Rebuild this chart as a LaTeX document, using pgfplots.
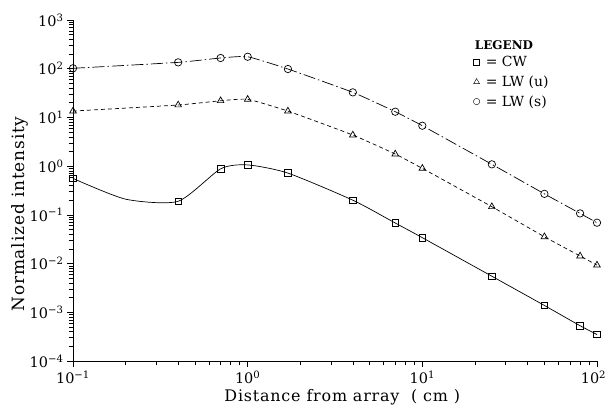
\documentclass[border=0pt]{standalone}
\usepackage{pgfplots}
\pgfplotsset{compat=1.18}
\usepackage{fontspec}
\setmainfont{DejaVu Serif}
\newfontfamily\labelfont[LetterSpace=5]{DejaVu Serif}
\begin{document}
\begin{tikzpicture}
\useasboundingbox (-73bp,-50bp) rectangle (535bp,361bp);
\begin{axis}[
  at={(0,0)}, anchor=south west,
  scale only axis, width=524bp, height=341bp,
  xmode=log, ymode=log,
  xmin=0.1, xmax=100, ymin=1e-4, ymax=1e3,
  axis x line*=bottom, axis y line*=left,
  axis line style={-, line width=0.7bp},
  tick style={black, line width=0.6bp},
  tick align=outside,
  major tick length=6bp, minor tick length=4.5bp,
  xtick={0.1,1,10,100},
  xticklabels={10\textsuperscript{−1},10\textsuperscript{0},10\textsuperscript{1},\hspace*{-7bp}10\textsuperscript{2}},
  minor xtick={0.2,0.3,0.4,0.5,0.6,0.7,0.8,0.9,2,3,4,5,6,7,8,9,20,30,40,50,60,70,80,90},
  ytick={1e-4,1e-3,1e-2,1e-1,1,10,100,1000},
  yticklabels={10\textsuperscript{−4},10\textsuperscript{−3},10\textsuperscript{−2},10\textsuperscript{−1},10\textsuperscript{0},10\textsuperscript{1},10\textsuperscript{2},10\textsuperscript{3}},
  minor ytick={2e-4,3e-4,4e-4,5e-4,6e-4,7e-4,8e-4,9e-4,
    2e-3,3e-3,4e-3,5e-3,6e-3,7e-3,8e-3,9e-3,
    2e-2,3e-2,4e-2,5e-2,6e-2,7e-2,8e-2,9e-2,
    0.2,0.3,0.4,0.5,0.6,0.7,0.8,0.9,
    2,3,4,5,6,7,8,9,20,30,40,50,60,70,80,90,
    200,300,400,500,600,700,800,900},
  ticklabel style={font=\fontsize{14.5}{17}\selectfont},
  clip=false,
  legend style={at={(rel axis cs:0.758,0.905)}, anchor=north west, draw=none, fill=none,
    font=\fontsize{14}{16}\selectfont, row sep=3.5bp,
    /tikz/every odd column/.append style={column sep=4bp},
    legend image code/.code={\draw[#1] plot coordinates {(0.1cm,0cm)};}},
  legend cell align=left,
]
\addplot[black, line width=0.7bp, smooth, tension=0.4, mark=square, mark size=3.3bp,
  mark indices={1,3,4,5,6,7,8,9,10,11,12,13}, forget plot] coordinates {
  (0.1,0.56) (0.2,0.21) (0.4,0.19) (0.7,0.88) (1.0,1.06) (1.7,0.72) (4,0.20)
  (7,0.068) (10,0.034) (25,0.0055) (50,0.00138) (80,0.00053) (100,0.00035)};
\addplot[black, line width=0.7bp, dash pattern=on 4bp off 3bp, smooth, tension=0.3,
  mark=triangle, mark size=3.8bp, mark options={solid}, forget plot] coordinates {
  (0.1,13.5) (0.4,18) (0.7,22) (1.0,23.5) (1.7,13.5) (4,4.35) (7,1.77) (10,0.90)
  (25,0.147) (50,0.0355) (80,0.0143) (100,0.0093)};
\addplot[black, line width=0.7bp, dash pattern=on 12bp off 3bp on 1.5bp off 3bp, smooth, tension=0.3,
  mark=o, mark size=3.7bp, mark options={solid}, forget plot] coordinates {
  (0.1,102) (0.4,135) (0.7,166) (1.0,176) (1.7,98.6) (4,32.7) (7,13.1) (10,6.76)
  (25,1.09) (50,0.27) (80,0.107) (100,0.069)};
\addlegendimage{only marks, black, mark=square, mark size=3bp}
\addlegendentry{= CW}
\addlegendimage{only marks, black, mark=triangle, mark size=3.4bp}
\addlegendentry{= LW (u)}
\addlegendimage{only marks, black, mark=o, mark size=3.2bp}
\addlegendentry{= LW (s)}
\node[font=\bfseries\fontsize{12}{14}\selectfont] at (rel axis cs:0.8225,0.9267) {LEGEND};
\node[rotate=90, anchor=base, font=\labelfont\fontsize{17}{19}\selectfont] at (rel axis cs:-0.0916,0.431) {Normalized intensity};
\node[anchor=base, font=\labelfont\fontsize{16}{18}\selectfont] at (rel axis cs:0.514,-0.1202) {Distance from array\ \ ( cm )};
\end{axis}
\end{tikzpicture}
\end{document}
